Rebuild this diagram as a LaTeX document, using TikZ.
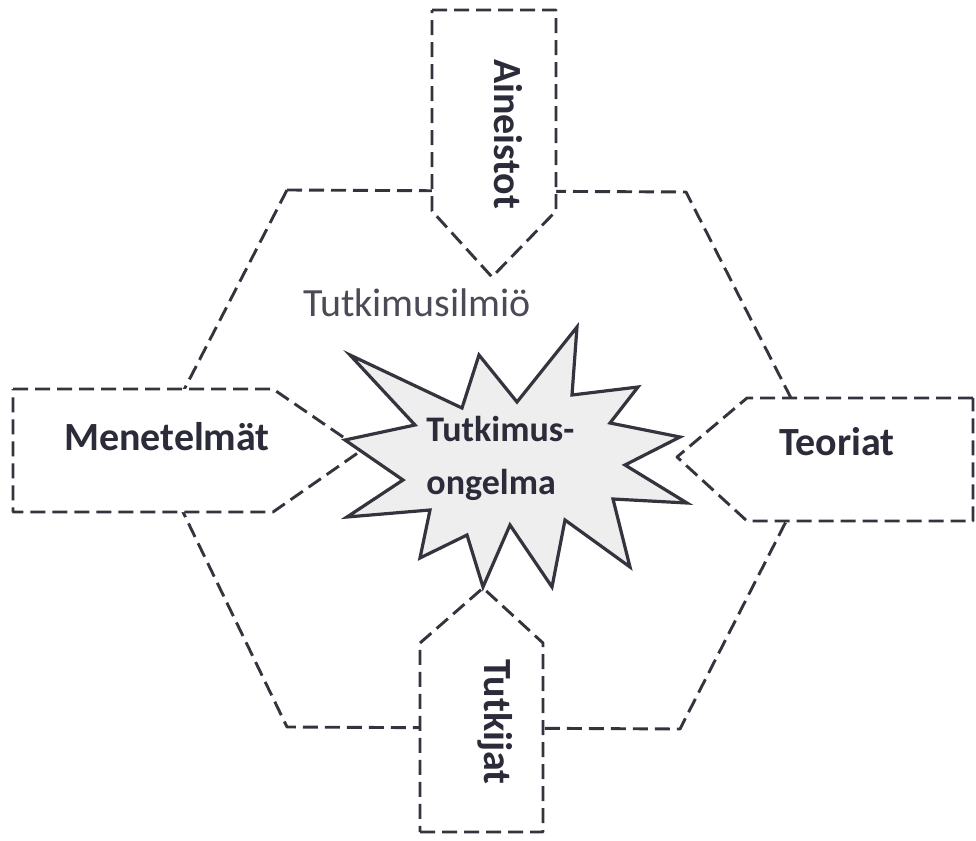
\documentclass[tikz,border=0pt]{standalone}
\usepackage{fontspec}
\setmainfont{Carlito}
\definecolor{ln}{HTML}{34343E}
\definecolor{tx}{HTML}{2B2B3A}
\definecolor{sf}{HTML}{EEEEEE}
\begin{document}
\begin{tikzpicture}[x=0.5pt,y=-0.5pt,
  dline/.style={draw=ln, line width=1.45pt, dash pattern=on 7.5pt off 3.5pt, line join=round},
  boxshape/.style={dline, fill=white},
  starshape/.style={draw=ln, line width=1.6pt, fill=sf, line join=miter, miter limit=6},
  lbl/.style={text=tx, font=\bfseries\fontsize{20}{24}\selectfont, inner sep=0pt}]
\useasboundingbox (0,0) rectangle (976,841);
% hexagon (research phenomenon)
\draw[dline] (287,190) -- (686,192) -- (820,455) -- (680,729) -- (287,727) -- (153,450) -- cycle;
% arrow boxes
\draw[boxshape] (432,10) -- (556,10) -- (556,211) -- (492,277) -- (432,211) -- cycle;
\draw[boxshape] (13,389) -- (273,389) -- (362,450) -- (273,512) -- (13,512) -- cycle;
\draw[boxshape] (973,398) -- (747,398) -- (677,457) -- (747,521) -- (973,521) -- cycle;
\draw[boxshape] (420,832) -- (543,832) -- (543,643) -- (483,588) -- (420,643) -- cycle;
% star
\draw[starshape] (350,355) -- (462,408) -- (479,355) -- (517,402) -- (577,327) -- (572,395)
  -- (638,387) -- (610,423) -- (680,437) -- (625,465) -- (687,503) -- (613,499)
  -- (630,567) -- (565,520) -- (552,587) -- (510,525) -- (483,587) -- (467,535)
  -- (420,558) -- (430,510) -- (347,517) -- (403,480) -- (345,440) -- (415,425) -- cycle;
% labels
\node[lbl, rotate=-90] (ain) at (508,134) {Aineistot};
\node[lbl] (men) at (167,437) {Menetelmät};
\node[lbl] (teo) at (837,442) {Teoriat};
\node[lbl, rotate=-90] (tut) at (495,722) {Tutkijat};
\node[text=tx!85, font=\fontsize{20}{24}\selectfont, inner sep=0pt] (ilm) at (417,303) {Tutkimusilmiö};
\node[lbl, font=\bfseries\fontsize{18}{26.5}\selectfont, align=left, anchor=north west] (ong) at (426,416) {Tutkimus-\\ongelma};
\end{tikzpicture}
\end{document}
